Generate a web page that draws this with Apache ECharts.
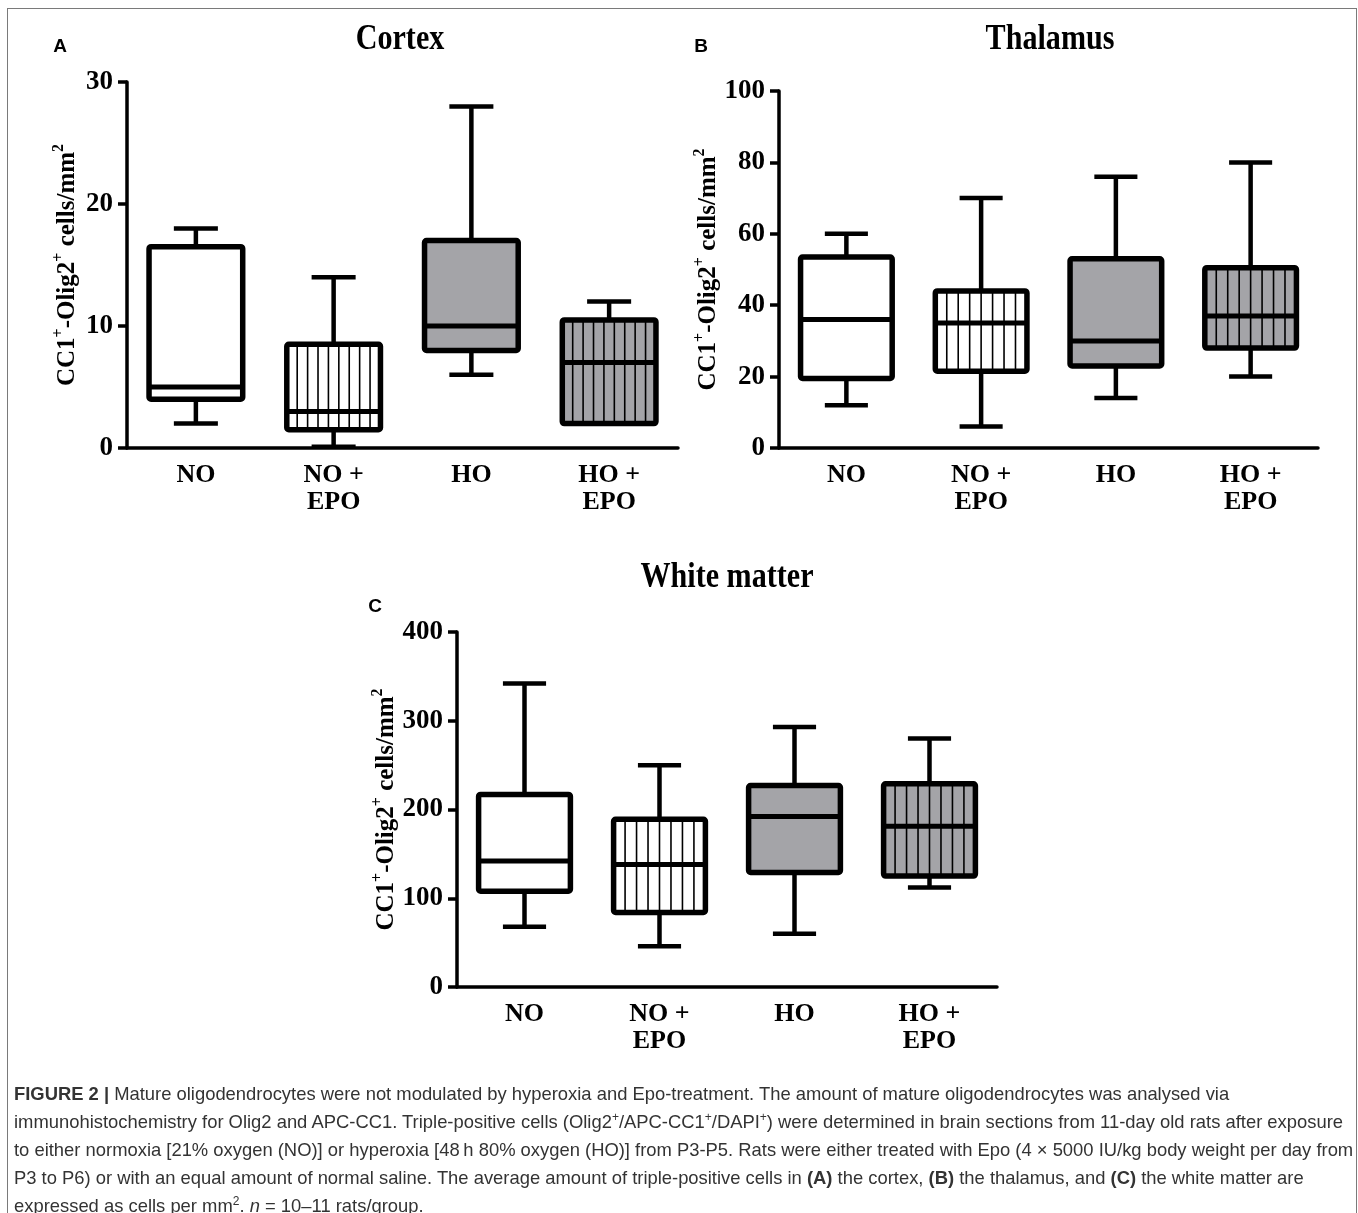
<!DOCTYPE html>
<html>
<head>
<meta charset="utf-8">
<script src="https://cdn.jsdelivr.net/npm/echarts@6/dist/echarts.min.js"></script>
<style>
  body { margin: 0; background: #fff; }
  #fig { position: relative; width: 1358px; height: 1213px; overflow: hidden; }
  #chart { position: absolute; left: 0; top: 0; width: 1358px; height: 1213px; }
  #frame { position: absolute; left: 7px; top: 8px; width: 1348px; height: 1230px; border: 1px solid #7a7a7a; }
  #caption { position: absolute; left: 14px; top: 1080px; font-family: 'Liberation Sans', Arial, sans-serif;
             font-size: 18.4px; line-height: 28px; color: #333; white-space: nowrap; }
  #caption sup { font-size: 12px; line-height: 0; }
</style>
<title>Figure 2</title>
</head>
<body>
<div id="fig">
  <div id="chart"></div>
  <div id="frame"></div>
  <div id="caption">
    <b>FIGURE 2 |</b> Mature oligodendrocytes were not modulated by hyperoxia and Epo-treatment. The amount of mature oligodendrocytes was analysed via<br>
    immunohistochemistry for Olig2 and APC-CC1. Triple-positive cells (Olig2<sup>+</sup>/APC-CC1<sup>+</sup>/DAPI<sup>+</sup>) were determined in brain sections from 11-day old rats after exposure<br>
    to either normoxia [21% oxygen (NO)] or hyperoxia [48&#8201;h 80% oxygen (HO)] from P3-P5. Rats were either treated with Epo (4 &times; 5000 IU/kg body weight per day from<br>
    P3 to P6) or with an equal amount of normal saline. The average amount of triple-positive cells in <b>(A)</b> the cortex, <b>(B)</b> the thalamus, and <b>(C)</b> the white matter are<br>
    expressed as cells per mm<sup>2</sup>. <i>n</i> = 10&ndash;11 rats/group.
  </div>
</div>
<script>
  // groups on the x axis
  var categories = ['NO', 'NO +\nEPO', 'HO', 'HO +\nEPO'];
  // box stats per group: [min, Q1, median, Q3, max]
  var cortexStats = [[2, 4, 5, 16.5, 18], [0.1, 1.5, 3, 8.5, 14], [6, 8, 10, 17, 28], [2, 2, 7, 10.5, 12]];
  var thalamusStats = [[12, 19.5, 36, 53.5, 60], [6, 21.5, 35, 44, 70], [14, 23, 30, 53, 76], [20, 28, 37, 50.5, 80]];
  var whiteStats = [[68, 108, 142, 217, 342], [46, 84, 138, 189, 250], [60, 129, 192, 227, 293], [112, 125, 181, 229, 280]];
  // y axis ranges: [max, interval]
  var cortexAxis = [30, 10];
  var thalamusAxis = [100, 20];
  var whiteAxis = [400, 100];
  var titles = ['Cortex', 'Thalamus', 'White matter'];
  var letters = ['A', 'B', 'C'];
  var yName = '{m|CC1}{s|+}{m|-Olig2}{s|+}{m| cells/mm}{s|2}';

  // fill of each group: white, white striped, grey, grey striped
  var boxFill = ['#ffffff', '#ffffff', '#a4a4a8', '#a4a4a8'];
  var boxStripes = [false, true, false, true];

  var serif = '"Liberation Serif", "Times New Roman", serif';
  var sans = '"Liberation Sans", Arial, sans-serif';

  function line(x1, y1, x2, y2, w) {
    return { type: 'line', shape: { x1: x1, y1: y1, x2: x2, y2: y2 },
             style: { stroke: '#000', lineWidth: w, lineCap: 'butt' } };
  }

  function renderBox(params, api) {
    var i = api.value(0);
    var lo = api.coord([i, api.value(1)]);
    var q1 = api.coord([i, api.value(2)]);
    var med = api.coord([i, api.value(3)]);
    var q3 = api.coord([i, api.value(4)]);
    var hi = api.coord([i, api.value(5)]);
    var band = api.size([1, 0])[0];
    var bw = band * 0.68, cw = bw * 0.47;
    var cx = q1[0], left = cx - bw / 2;
    var kids = [];
    // whiskers + caps
    kids.push(line(cx, q3[1], cx, hi[1], 4.5));
    kids.push(line(cx - cw / 2, hi[1], cx + cw / 2, hi[1], 4.5));
    kids.push(line(cx, q1[1], cx, lo[1], 4.5));
    kids.push(line(cx - cw / 2, lo[1], cx + cw / 2, lo[1], 4.5));
    // box body
    kids.push({ type: 'rect', shape: { x: left, y: q3[1], width: bw, height: q1[1] - q3[1] },
                style: { fill: boxFill[i], stroke: null } });
    if (boxStripes[i]) {
      var n = Math.round(bw / 11);
      for (var k = 1; k < n; k++) {
        var sx = left + k * bw / n;
        kids.push(line(sx, q3[1], sx, q1[1], 1.6));
      }
    }
    kids.push(line(left, med[1], left + bw, med[1], 5));
    kids.push({ type: 'rect', shape: { x: left, y: q3[1], width: bw, height: q1[1] - q3[1], r: 2 },
                style: { fill: null, stroke: '#000', lineWidth: 5.5, lineJoin: 'round' } });
    return { type: 'group', children: kids };
  }

  function toData(stats) {
    return stats.map(function (s, i) { return [i].concat(s); });
  }

  var grids = [
    { left: 127, top: 82, width: 551, height: 366 },
    { left: 779, top: 91, width: 539, height: 357 },
    { left: 457, top: 632, width: 540, height: 355 }
  ];
  var axes = [cortexAxis, thalamusAxis, whiteAxis];
  var stats = [cortexStats, thalamusStats, whiteStats];
  var nameGaps = [43, 43, 54];
  var titlePos = [[400, 40], [1050, 40], [727, 578]];
  var letterPos = [[60, 47], [701, 47], [375, 607]];

  function titleText(t, p) {
    return { type: 'text', x: p[0], y: p[1], scaleX: 0.86,
             style: { text: t, font: 'bold 35px ' + serif, align: 'center', verticalAlign: 'middle', fill: '#000' } };
  }
  function letterText(t, p) {
    return { type: 'text', x: p[0], y: p[1],
             style: { text: t, font: 'bold 19px ' + sans, align: 'center', verticalAlign: 'middle', fill: '#000' } };
  }

  var chart = echarts.init(document.getElementById('chart'));
  var option = {
    animation: false,
    backgroundColor: '#fff',
    grid: grids.map(function (g) {
      return Object.assign({ containLabel: false, outerBoundsMode: 'none' }, g);
    }),
    xAxis: grids.map(function (g, gi) {
      return {
        type: 'category', gridIndex: gi, data: categories,
        axisLine: { lineStyle: { color: '#000', width: 3.5 } },
        axisTick: { alignWithLabel: true, length: 9, lineStyle: { color: '#000', width: 3.5 } },
        axisLabel: { color: '#000', fontFamily: serif, fontWeight: 'bold', fontSize: 26,
                     lineHeight: 27, margin: 14 },
        splitLine: { show: false }
      };
    }),
    yAxis: grids.map(function (g, gi) {
      return {
        type: 'value', gridIndex: gi, min: 0, max: axes[gi][0], interval: axes[gi][1],
        axisLine: { show: true, lineStyle: { color: '#000', width: 3.5 } },
        axisTick: { show: true, length: 9, lineStyle: { color: '#000', width: 3.5 } },
        axisLabel: { color: '#000', fontFamily: serif, fontWeight: 'bold', fontSize: 27, margin: 14 },
        splitLine: { show: false },
        name: yName, nameLocation: 'middle', nameRotate: 90, nameGap: nameGaps[gi],
        nameTextStyle: {
          rich: {
            m: { fontFamily: serif, fontWeight: 'bold', fontSize: 25, color: '#000', lineHeight: 33 },
            s: { fontFamily: serif, fontWeight: 'bold', fontSize: 16, color: '#000', verticalAlign: 'top' }
          }
        }
      };
    }),
    series: stats.map(function (s, gi) {
      return {
        type: 'custom', xAxisIndex: gi, yAxisIndex: gi,
        data: toData(s), encode: { x: 0, y: [1, 2, 3, 4, 5] },
        renderItem: renderBox
      };
    }),
    graphic: titles.map(function (t, i) { return titleText(t, titlePos[i]); })
      .concat(letters.map(function (t, i) { return letterText(t, letterPos[i]); }))
  };
  chart.setOption(option);
</script>
</body>
</html>
